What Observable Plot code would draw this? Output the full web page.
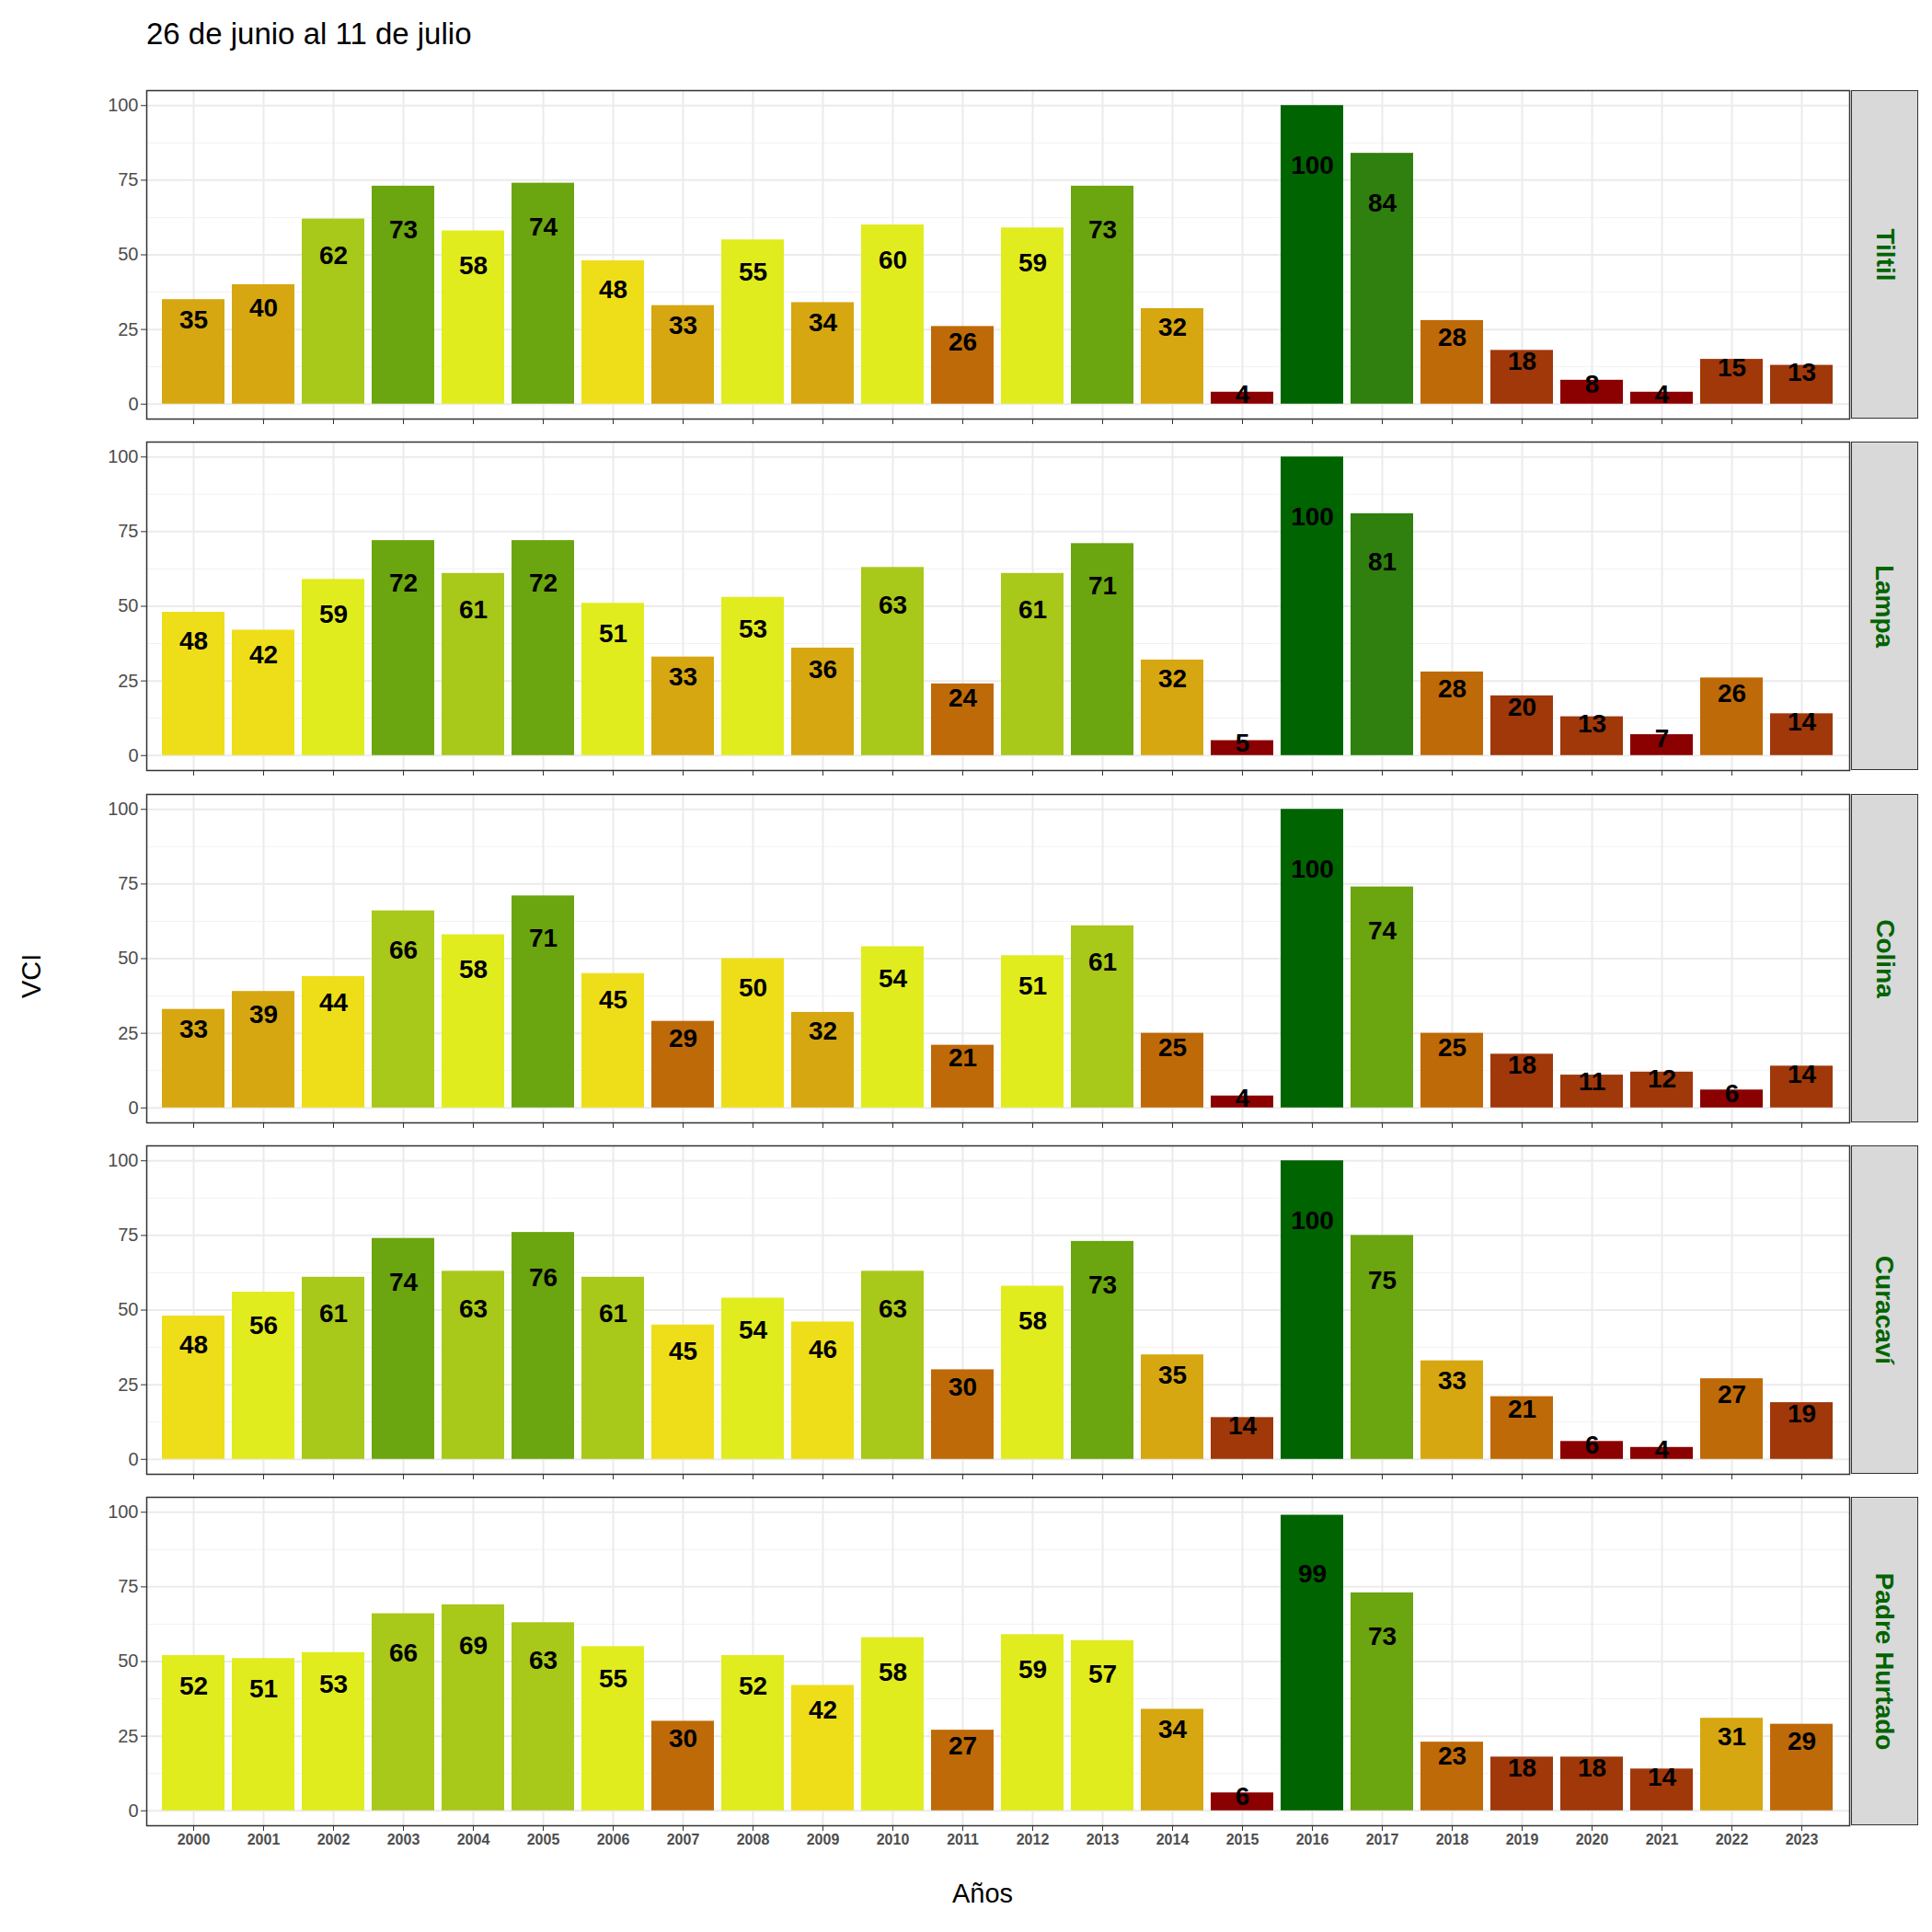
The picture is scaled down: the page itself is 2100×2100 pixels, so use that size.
<!DOCTYPE html>
<html><head><meta charset="utf-8">
<script src="https://cdn.jsdelivr.net/npm/d3@7"></script>
<script src="https://cdn.jsdelivr.net/npm/@observablehq/plot@0.6"></script>
<style>
body{margin:0;background:#fff;font-family:Arial,"Liberation Sans",sans-serif;}
#wrap{position:relative;width:2100px;height:2100px;}
.abs{position:absolute;}
.strip{background:#d9d9d9;border:1.5px solid #333;box-sizing:border-box;display:flex;align-items:center;justify-content:center;}
.strip span{transform:rotate(90deg);white-space:nowrap;color:#006400;font-weight:bold;font-size:28px;}
</style></head>
<body><div id="wrap"></div>
<script>
const years = d3.range(2000, 2024).map(String);
const regions = ["Tiltil", "Lampa", "Colina", "Curacaví", "Padre Hurtado"];
const tiltil = [35,40,62,73,58,74,48,33,55,34,60,26,59,73,32,4,100,84,28,18,8,4,15,13];
const lampa = [48,42,59,72,61,72,51,33,53,36,63,24,61,71,32,5,100,81,28,20,13,7,26,14];
const colina = [33,39,44,66,58,71,45,29,50,32,54,21,51,61,25,4,100,74,25,18,11,12,6,14];
const curacavi = [48,56,61,74,63,76,61,45,54,46,63,30,58,73,35,14,100,75,33,21,6,4,27,19];
const padreHurtado = [52,51,53,66,69,63,55,30,52,42,58,27,59,57,34,6,99,73,23,18,18,14,31,29];
const series = [tiltil, lampa, colina, curacavi, padreHurtado];

const palette = ["#8B0000","#A0380A","#BF6A08","#D6A710","#EEDE1A","#E0EC1E","#A8C81A","#6BA510","#2F800E","#006400"];
const breaks = [10,20,30,40,50,60,70,80,90];
const col = v => palette[breaks.filter(b => v > b).length];

const wrap = d3.select("#wrap");
wrap.append("div").attr("class","abs").style("left","159px").style("top","18px")
  .style("font-size","33px").text("26 de junio al 11 de julio");
wrap.append("div").attr("class","abs").style("left","18px").style("top","1040px")
  .style("font-size","29px").style("transform","rotate(-90deg)").style("transform-origin","left top")
  .style("top","1085px").text("VCI");
wrap.append("div").attr("class","abs").style("left","1035px").style("top","2042px")
  .style("font-size","29px").text("Años");

const tops = [98, 480, 863, 1245, 1627];
const ph = 357;

regions.forEach((r, i) => {
  const last = i === regions.length - 1;
  const data = years.map((y, j) => ({year: y, v: series[i][j]}));
  const chart = Plot.plot({
    width: 2010, height: ph + (last ? 40 : 8),
    marginLeft: 159, marginRight: 0, marginTop: 0, marginBottom: last ? 40 : 8,
    style: {fontFamily: "Arial, 'Liberation Sans', sans-serif", overflow: "visible"},
    x: {type: "band", domain: years, paddingInner: 0.1, paddingOuter: 0.15, label: null},
    y: {domain: [-5, 105], label: null},
    marks: [
      Plot.ruleY([12.5, 37.5, 62.5, 87.5], {stroke: "#f2f2f2", strokeWidth: 1}),
      Plot.ruleY([0, 25, 50, 75, 100], {stroke: "#ebebeb", strokeWidth: 2}),
      Plot.gridX({stroke: "#ebebeb", strokeOpacity: 1, strokeWidth: 2}),
      Plot.barY(data, {x: "year", y: "v", fill: d => col(d.v)}),
      Plot.text(data, {x: "year", y: d => d.v * 0.8, text: d => String(d.v),
        fontSize: 28, fontWeight: "bold", fill: "black"}),
      Plot.frame({stroke: "#333", strokeWidth: 1.5}),
      Plot.axisY({ticks: [0, 25, 50, 75, 100], tickSize: 6, fontSize: 20, fill: "#4d4d4d", stroke: "#333", label: null}),
      Plot.axisX({tickSize: 6, fontSize: 16, fontWeight: "bold", fill: "#4d4d4d", stroke: "#333", label: null,
        tickFormat: last ? (d => d) : (() => "")})
    ]
  });
  wrap.append("div").attr("class","abs").style("left","0px").style("top", tops[i] + "px")
    .node().appendChild(chart);
  wrap.append("div").attr("class","abs strip").style("left","2012px").style("top", tops[i] + "px")
    .style("width","73px").style("height", ph + "px").html(`<span>${r}</span>`);
});
</script></body></html>
